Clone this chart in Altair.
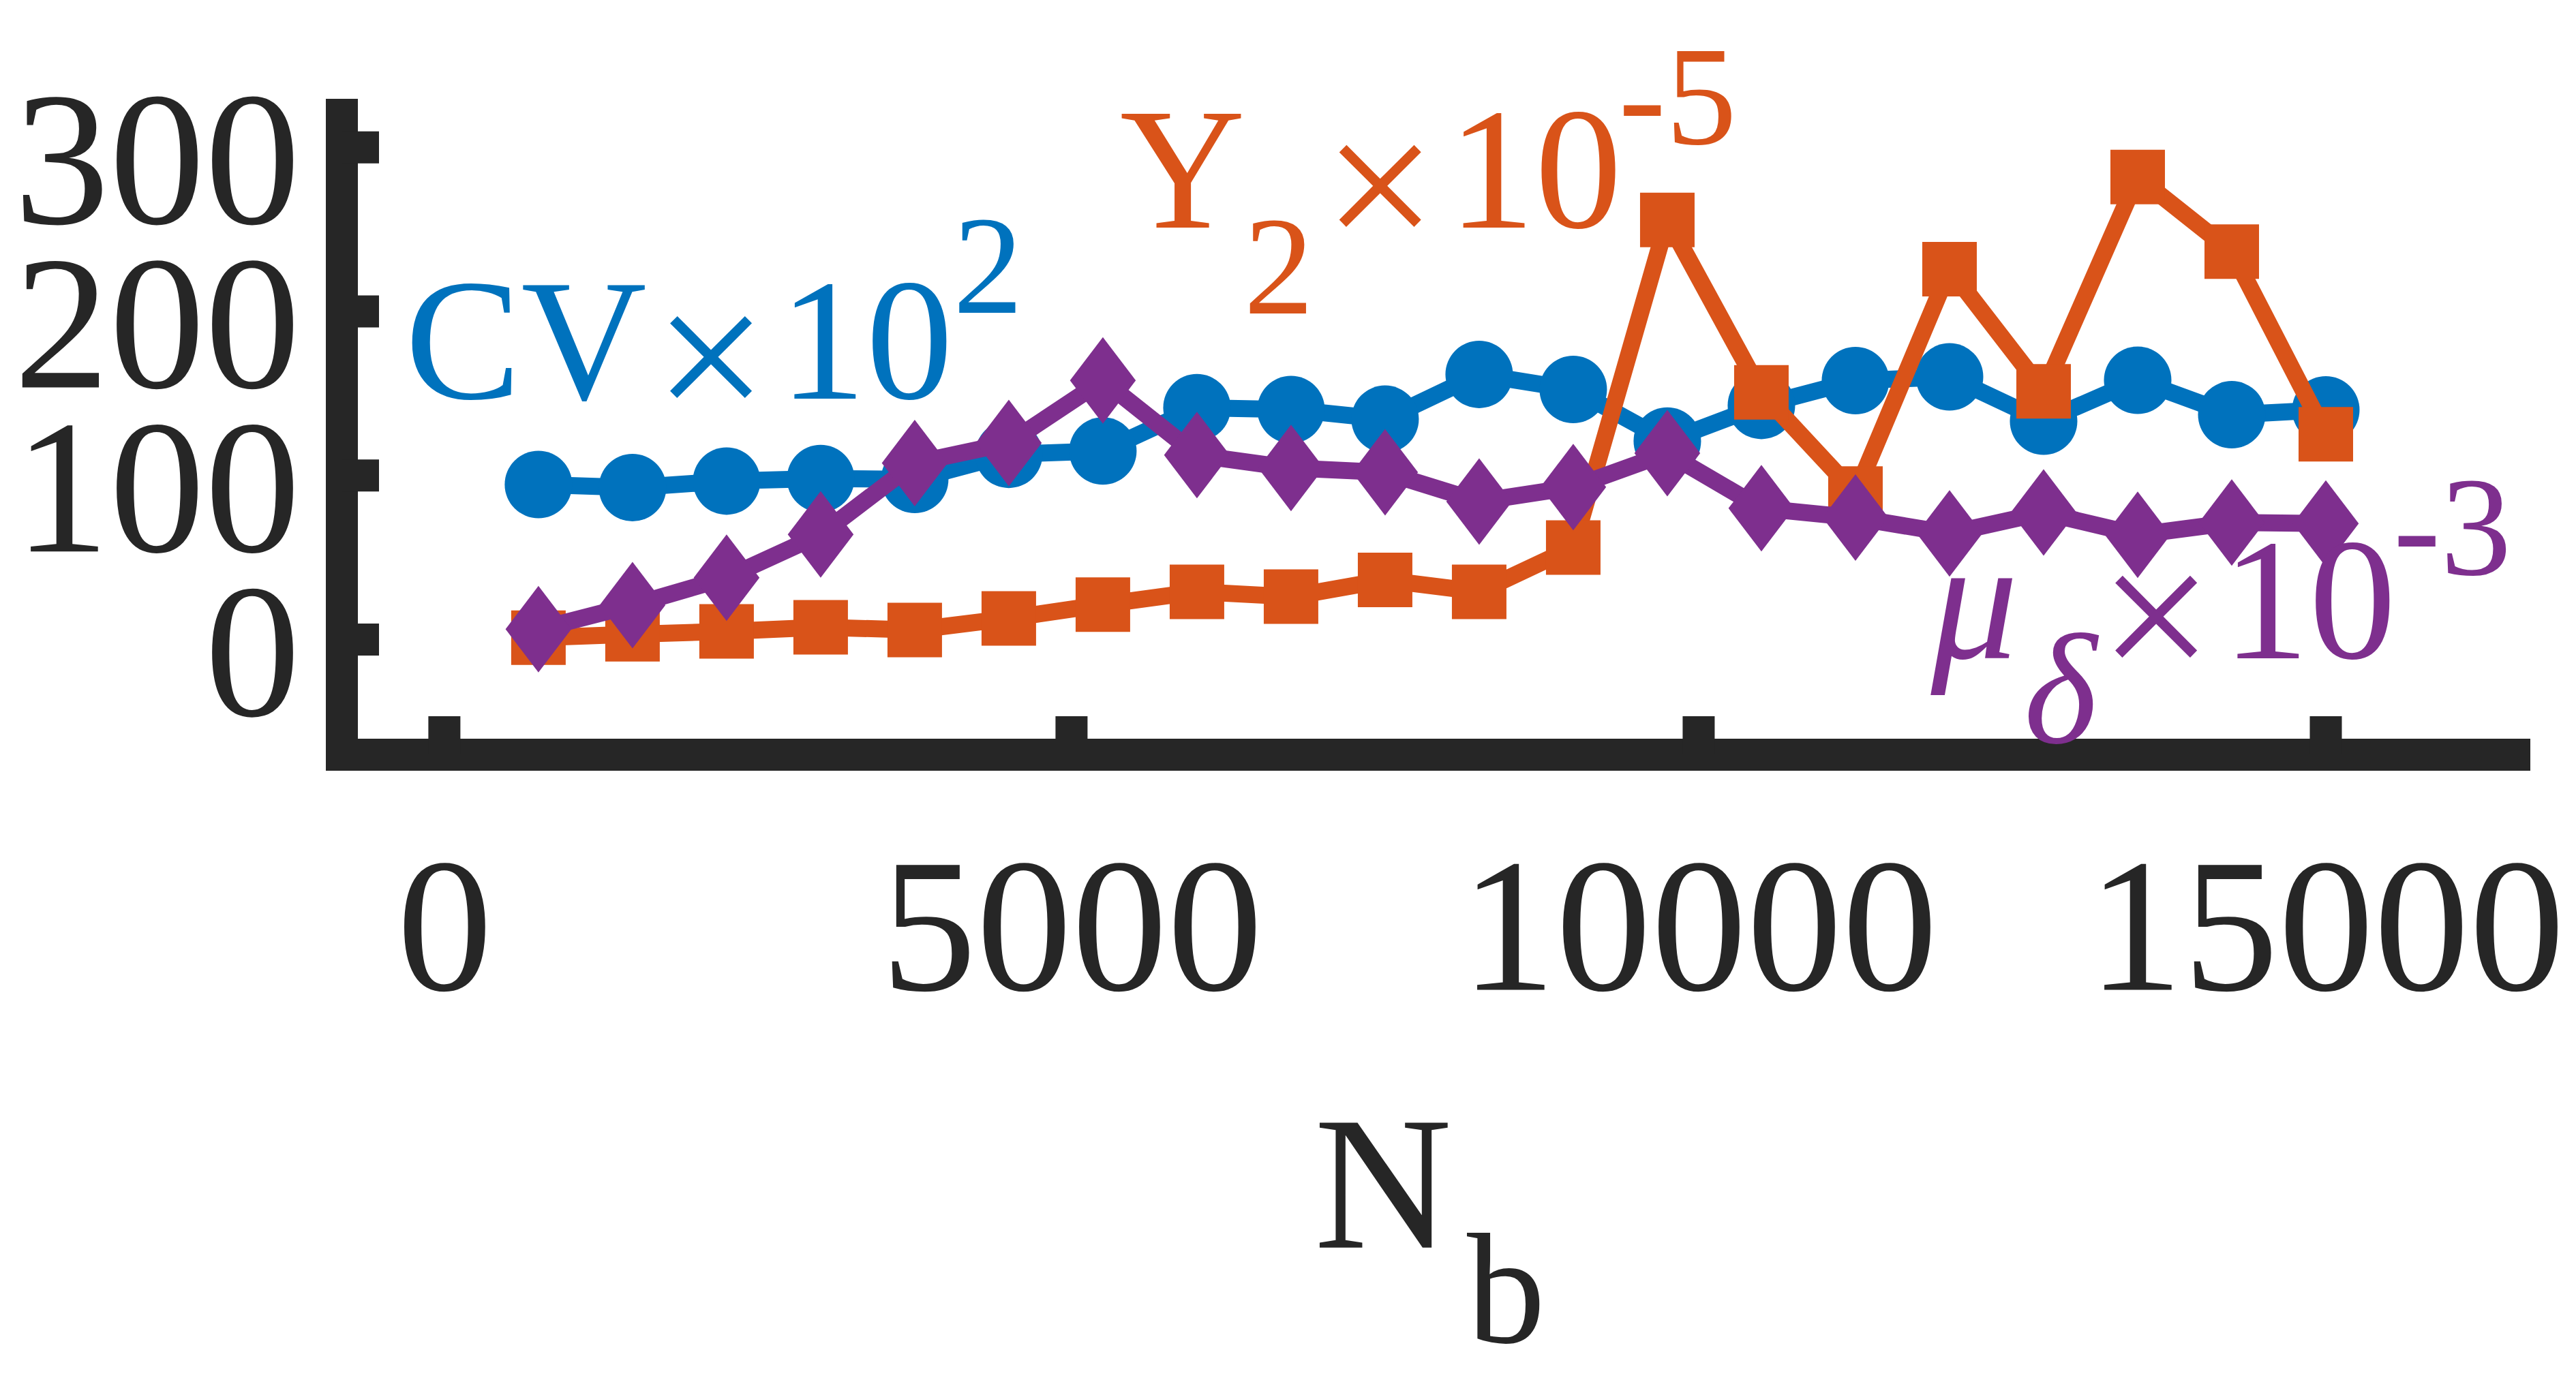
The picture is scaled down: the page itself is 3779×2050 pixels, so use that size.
import altair as alt
import pandas as pd

# ---- data ----
n_b = [750, 1500, 2250, 3000, 3750, 4500, 5250, 6000, 6750, 7500,
       8250, 9000, 9750, 10500, 11250, 12000, 12750, 13500, 14250, 15000]
cv_x100 = [94.5, 92.6, 96.6, 98.1, 97.6, 112.9, 114.9, 141.3, 140.2, 134.3,
           161.6, 152.4, 121.0, 142.7, 157.8, 160.1, 133.1, 158.0, 137.0, 140.0]
y2_x1e5 = [1.1, 3.2, 5.0, 7.5, 5.8, 12.9, 21.3, 29.1, 26.1, 36.3,
           29.1, 56.1, 255.7, 150.6, 89.0, 225.7, 151.3, 281.9, 236.4, 125.1]
mu_x1e3 = [6.3, 21.0, 37.7, 64.0, 107.6, 119.8, 157.9, 112.4, 104.5, 101.9,
           84.1, 92.9, 113.6, 80.0, 74.3, 64.7, 77.4, 63.8, 71.3, 70.7]

x_ticks = [0, 5000, 10000, 15000]
y_ticks = [0, 100, 200, 300]

# annotation pieces (text, anchor in data units)
ann_text = ["CV", "×", "10", "2",
            "Y", "2", "×", "10", "-5",
            "×", "10", "-3",
            "N", "b"]
ann_x = [650, 2125, 3362, 4335,
         5886, 6653, 7460, 8694, 9832,
         13647, 14867, 16009,
         7484, 8465]
ann_y = [146.8, 131.4, 146.8, 199.2,
         251.1, 198.8, 235.7, 251.1, 302.2,
         -26.8, -11.4, 39.7,
         -370.6, -428.3]
ann_size = [255, 295, 255, 205,
            255, 205, 295, 255, 208,
            295, 255, 208,
            280, 230]
ann_color = ["#0072BD"] * 4 + ["#D95319"] * 5 + ["#7E2F8E"] * 3 + ["#262626"] * 2

greek_text = ["μ", "δ"]
greek_x = [12199, 12884]
greek_y = [-11.4, -62.9]
greek_size = [255, 230]

BLUE, ORANGE, PURPLE, AX = "#0072BD", "#D95319", "#7E2F8E", "#262626"
FONT = "Liberation Serif"

rows = []
for name, vals in [("CV", cv_x100), ("Y2", y2_x1e5), ("mu", mu_x1e3)]:
    for xv, yv in zip(n_b, vals):
        rows.append({"x": xv, "y": yv, "series": name})
df = pd.DataFrame(rows)

ann = pd.DataFrame({"text": ann_text, "x": ann_x, "y": ann_y,
                    "fs": ann_size, "color": ann_color})
greek = pd.DataFrame({"text": greek_text, "x": greek_x, "y": greek_y,
                      "fs": greek_size})
xt = pd.DataFrame({"x": x_ticks})
yt = pd.DataFrame({"y": y_ticks})

x_axis = alt.Axis(values=x_ticks, title=None, grid=False, ticks=False, tickSize=0,
                  domainColor=AX, domainWidth=47, domainCap="square",
                  labelFont=FONT, labelFontSize=280, labelColor=AX,
                  labelBaseline="alphabetic", labelPadding=345, labelLimit=3000,
                  labelFlush=False, labelOverlap=False, format="d")
y_axis = alt.Axis(values=y_ticks, title=None, grid=False, ticks=False, tickSize=0,
                  domainColor=AX, domainWidth=47, domainCap="square",
                  labelFont=FONT, labelFontSize=280, labelColor=AX,
                  labelAlign="right", labelBaseline="alphabetic",
                  labelPadding=61, labelOffset=111, labelLimit=3000,
                  labelFlush=False, labelOverlap=False, format="d")

X = alt.X("x:Q", scale=alt.Scale(domain=[-820, 16500], nice=False, zero=False), axis=x_axis)
Y = alt.Y("y:Q", scale=alt.Scale(domain=[-70, 320], nice=False, zero=False), axis=y_axis)

xtick_layer = alt.Chart(xt).mark_rule(color=AX, strokeWidth=47, strokeCap="butt").encode(
    x=X, y=alt.value(939), y2=alt.value(883))
ytick_layer = alt.Chart(yt).mark_rule(color=AX, strokeWidth=47, strokeCap="butt").encode(
    y=Y, x=alt.value(0), x2=alt.value(55))


def series_layers(name, color, shape, size):
    base = alt.Chart(df).transform_filter(alt.datum.series == name).encode(x=X, y=Y)
    ln = base.mark_line(color=color, strokeWidth=25, strokeJoin="round")
    pt = base.mark_point(shape=shape, filled=True, opacity=1, size=size,
                         color=color, strokeWidth=0)
    return [ln, pt]


diamond = "M0,-1L0.76,0L0,1L-0.76,0Z"

layers = [xtick_layer, ytick_layer]
layers += series_layers("CV", BLUE, "circle", 9800)
layers += series_layers("Y2", ORANGE, "square", 6400)
layers += series_layers("mu", PURPLE, diamond, 16129)

text_layer = alt.Chart(ann).mark_text(font=FONT, align="center", baseline="alphabetic").encode(
    x=X, y=Y, text="text:N",
    size=alt.Size("fs:Q", scale=None), color=alt.Color("color:N", scale=None))
greek_layer = alt.Chart(greek).mark_text(font=FONT, fontStyle="italic", align="center",
                                         baseline="alphabetic", color=PURPLE).encode(
    x=X, y=Y, text="text:N", size=alt.Size("fs:Q", scale=None))
layers += [text_layer, greek_layer]

chart = alt.layer(*layers).properties(
    width=3187, height=939,
    autosize=alt.AutoSizeParams(type="none"),
    padding={"left": 493, "top": 160, "right": 80, "bottom": 935},
    background="white",
).configure_view(stroke=None)

chart.save("out.html", embed_options={"renderer": "svg", "actions": False})
